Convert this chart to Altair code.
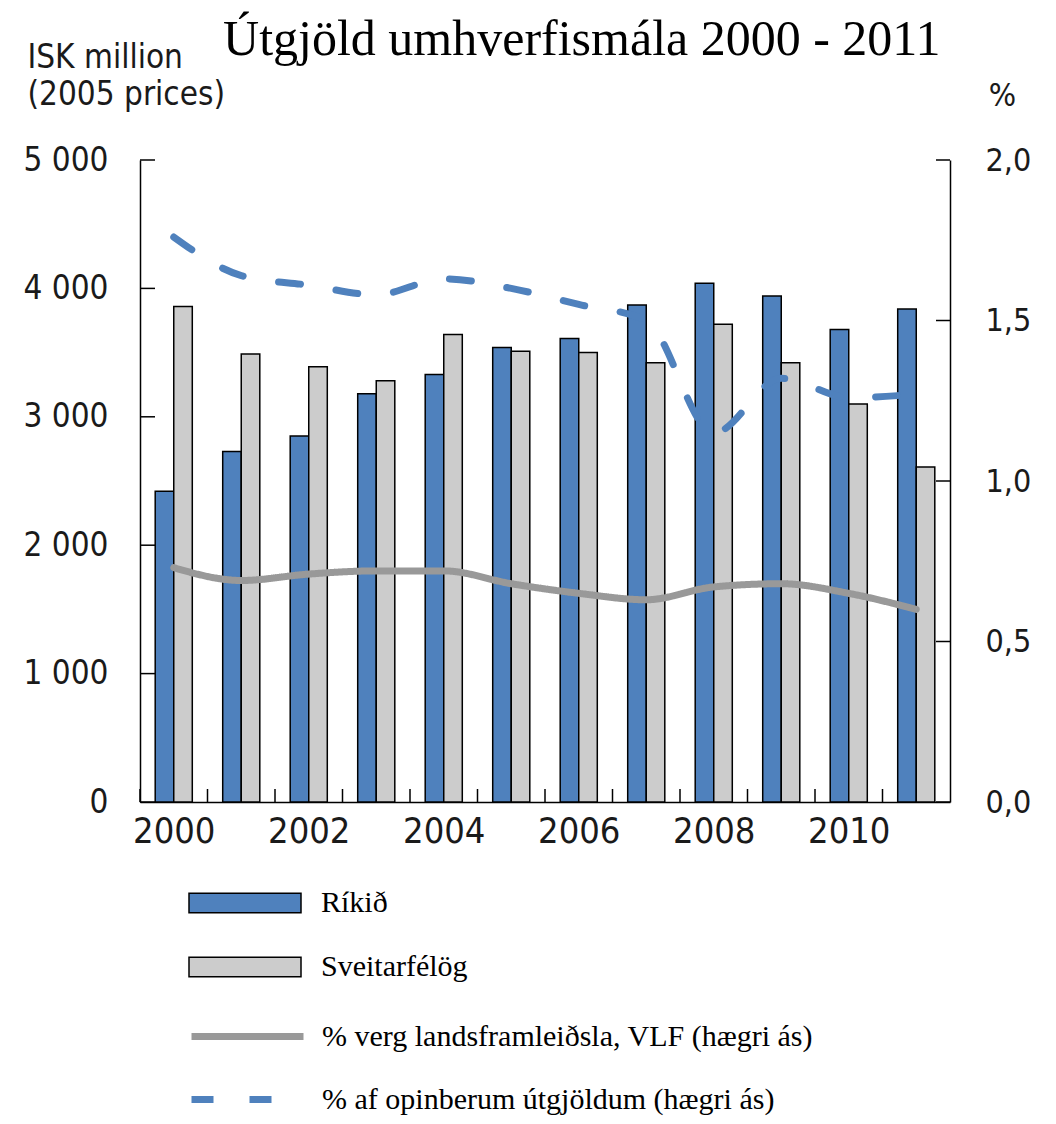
import altair as alt
import pandas as pd

# ---- data ----
years = list(range(2000, 2012))
rikid = [2420, 2730, 2850, 3180, 3330, 3540, 3610, 3870, 4040, 3940, 3680, 3840]
sveit = [3860, 3490, 3390, 3280, 3640, 3510, 3500, 3420, 3720, 3420, 3100, 2610]
pct_gdp = [0.73, 0.69, 0.71, 0.72, 0.72, 0.68, 0.65, 0.63, 0.67, 0.68, 0.65, 0.60]
pct_pub = [1.76, 1.64, 1.61, 1.58, 1.63, 1.60, 1.55, 1.50, 1.15, 1.32, 1.26, 1.27]

bar_series = ["Ríkið", "Sveitarfélög"]
line_series = ["% verg landsframleiðsla, VLF (hægri ás)", "% af opinberum útgjöldum (hægri ás)"]
left_ticks = [0, 1000, 2000, 3000, 4000, 5000]
right_ticks = [0.0, 0.5, 1.0, 1.5, 2.0]
title_text = "Útgjöld umhverfismála 2000 - 2011"
left_title = ["ISK million", "(2005 prices)"]

bars_df = pd.DataFrame({
    "year": years * 2,
    "series": [bar_series[0]] * len(years) + [bar_series[1]] * len(years),
    "value": rikid + sveit,
})
lines_df = pd.DataFrame({
    "year": years * 2,
    "series": [line_series[0]] * len(years) + [line_series[1]] * len(years),
    "value": pct_gdp + pct_pub,
})

W, H = 810, 642
NARROW = "Liberation Sans Narrow, Arial Narrow, DejaVu Sans Condensed, sans-serif"
SERIF = "Liberation Serif, DejaVu Serif, serif"
BLUE = "#4f81bd"
GREY_BAR = "#cccccc"
GREY_LINE = "#999999"
TXT = "#1a1a1a"

x_axis = alt.Axis(
    title=None, labelAngle=0,
    labelExpr="datum.value % 2 == 0 ? datum.label : ''",
    ticks=False, domainColor="black", domainWidth=1.5,
    grid=True, gridColor="white", gridWidth=1, tickBand="extent",
    labelFont=NARROW, labelFontSize=36, labelColor=TXT, labelPadding=12,
)

left_axis = alt.Axis(
    orient="left", values=left_ticks,
    labelExpr="replace(format(datum.value, ','), ',', ' ')",
    ticks=False, domainColor="black", domainWidth=1.5,
    grid=True, gridColor="white", gridWidth=1,
    labelFont=NARROW, labelFontSize=33, labelColor=TXT, labelPadding=32,
    title=left_title, titleAngle=0, titleAlign="left", titleBaseline="alphabetic",
    titleX=-113, titleY=-93, titleFont=NARROW, titleFontSize=33,
    titleFontWeight="normal", titleLineHeight=37, titleColor=TXT,
)

right_axis = alt.Axis(
    orient="right", values=right_ticks,
    labelExpr="replace(format(datum.value, '.1f'), '.', ',')",
    ticks=False, domainColor="black", domainWidth=1.5, grid=False,
    labelFont=NARROW, labelFontSize=32, labelColor=TXT, labelPadding=35,
    title="%", titleAngle=0, titleAlign="center", titleBaseline="alphabetic",
    titleX=52, titleY=-55, titleFont=NARROW, titleFontSize=32,
    titleFontWeight="normal", titleColor=TXT,
)

legend_bars = alt.Legend(
    title=None, orient="none", legendX=90, legendY=728, direction="vertical",
    symbolType="M-4,-0.7H4V0.7H-4Z", symbolSize=784,
    symbolStrokeColor="black", symbolStrokeWidth=1.5,
    labelFont=SERIF, labelFontSize=30, labelColor="black",
    labelOffset=61, rowPadding=34, labelLimit=700, padding=0,
)
legend_lines = alt.Legend(
    title=None, orient="none", legendX=90, legendY=859, direction="vertical",
    symbolType="M-4,0H4", symbolSize=784, symbolStrokeWidth=7,
    labelFont=SERIF, labelFontSize=30, labelColor="black",
    labelOffset=57, rowPadding=30, labelLimit=700, padding=0,
)

bars = alt.Chart(bars_df).mark_bar(stroke="black", strokeWidth=1.5).encode(
    x=alt.X("year:O", scale=alt.Scale(paddingInner=0, paddingOuter=0), axis=x_axis),
    xOffset=alt.XOffset("series:N", scale=alt.Scale(domain=bar_series, paddingInner=0, paddingOuter=0.82)),
    y=alt.Y("value:Q", scale=alt.Scale(domain=[0, 5000], nice=False), axis=left_axis),
    fill=alt.Fill("series:N", scale=alt.Scale(domain=bar_series, range=[BLUE, GREY_BAR]), legend=legend_bars),
)

lines = alt.Chart(lines_df).mark_line(strokeWidth=7, interpolate="monotone", strokeCap="round").encode(
    x=alt.X("year:O"),
    y=alt.Y("value:Q", scale=alt.Scale(domain=[0, 2], nice=False), axis=right_axis),
    stroke=alt.Stroke("series:N", scale=alt.Scale(domain=line_series, range=[GREY_LINE, BLUE]), legend=legend_lines),
    strokeDash=alt.StrokeDash("series:N", scale=alt.Scale(domain=line_series, range=[[1, 0], [22, 36]]), legend=legend_lines),
)

left_tick_layer = alt.Chart(pd.DataFrame({"v": left_ticks})).mark_rule(color="black", strokeWidth=1.5).encode(
    y=alt.Y("v:Q", scale=alt.Scale(domain=[0, 5000], nice=False), axis=None),
    x=alt.value(0), x2=alt.value(15),
)
right_tick_layer = alt.Chart(pd.DataFrame({"v": right_ticks})).mark_rule(color="black", strokeWidth=1.5).encode(
    y=alt.Y("v:Q", scale=alt.Scale(domain=[0, 2], nice=False), axis=None),
    x=alt.value(W - 14), x2=alt.value(W),
)
x_tick_layer = alt.Chart(pd.DataFrame({"year": years})).mark_rule(color="black", strokeWidth=1.5).encode(
    x=alt.X("year:O", bandPosition=0),
    y=alt.value(H), y2=alt.value(H - 13),
)

chart = alt.layer(
    bars, lines, left_tick_layer, right_tick_layer, x_tick_layer
).resolve_scale(
    y="independent"
).properties(
    width=W, height=H,
    padding={"left": 132, "top": 152, "right": 98, "bottom": 314},
    autosize=alt.AutoSizeParams(type="none"),
    title=alt.Title(title_text, font=SERIF, fontSize=50, fontWeight="normal",
                    anchor="start", dx=200, offset=-64, baseline="alphabetic", color="black"),
).configure_view(
    fill="#effcfd", stroke="transparent"
).configure(background="white")

chart.save("out.html", embed_options={"renderer": "svg", "actions": False})
